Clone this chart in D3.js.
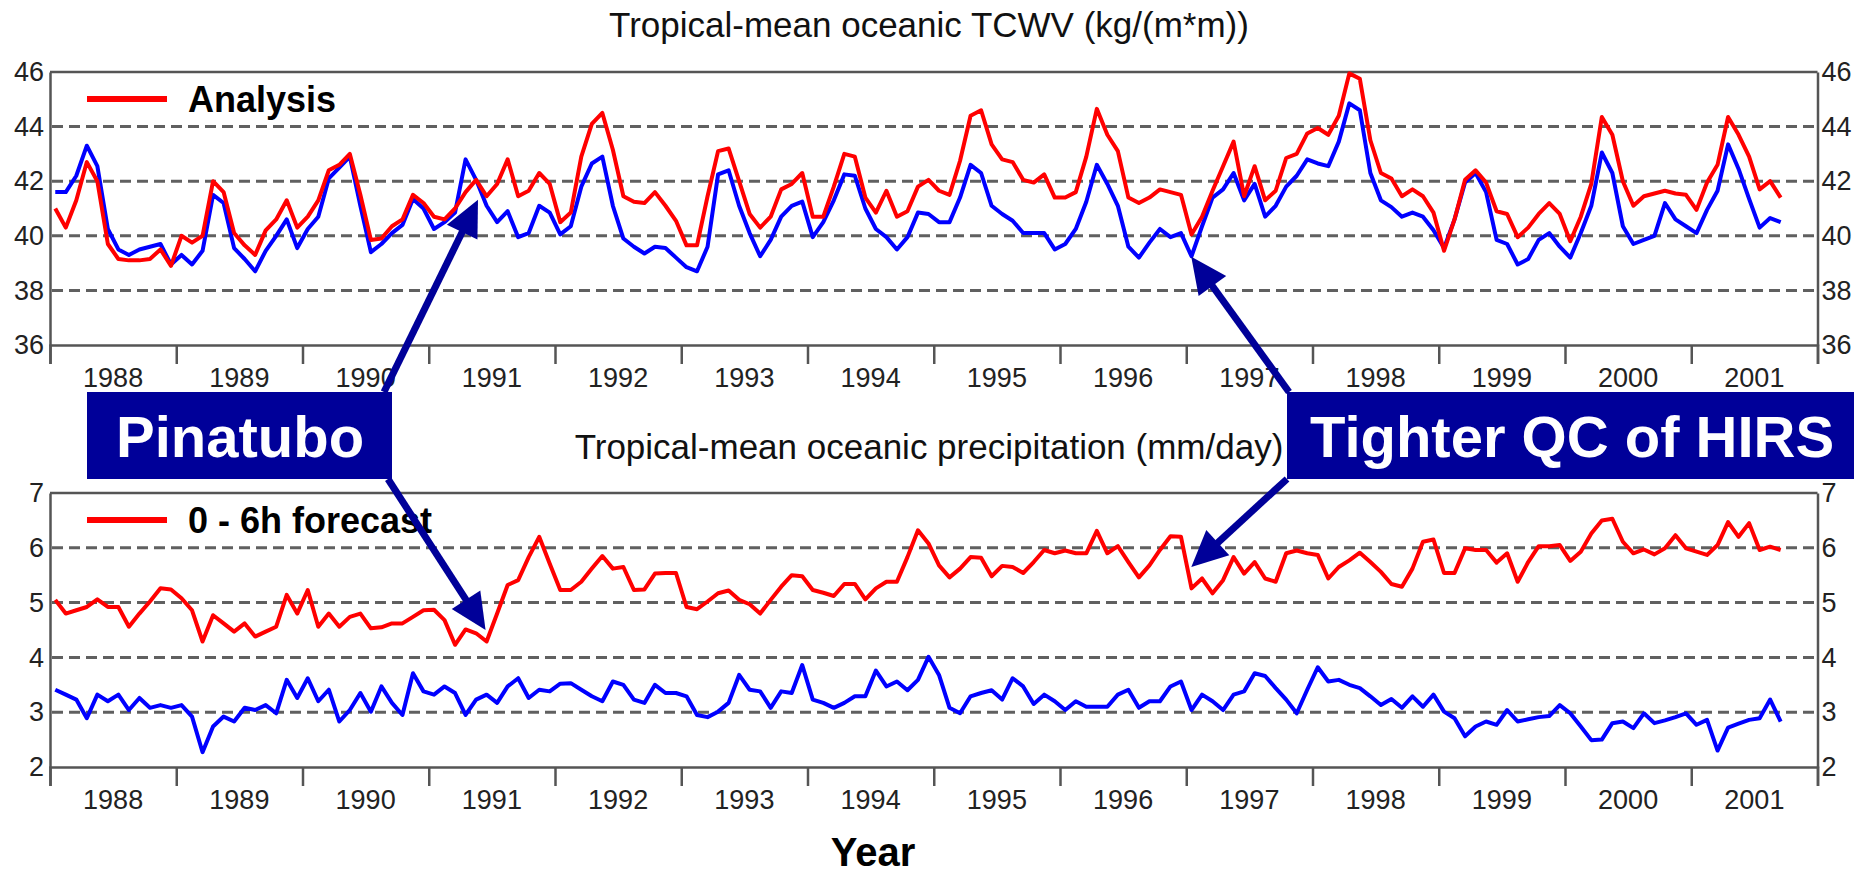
<!DOCTYPE html>
<html>
<head>
<meta charset="utf-8">
<script src="https://cdn.jsdelivr.net/npm/d3@7/dist/d3.min.js"></script>
<style>
  body { margin: 0; background: #fff; }
  svg text { font-family: "Liberation Sans", Arial, Helvetica, sans-serif; }
</style>
</head>
<body>
<svg id="chart" width="1854" height="877"></svg>
<script>
// monthly means, Jan 1988 .. Sep 2001
const tcwvAnalysis = [
  41.0, 40.3, 41.3, 42.7, 42.0, 39.7, 39.15, 39.1, 39.1, 39.15, 39.5, 38.9,
  40.0, 39.75, 40.0, 42.0, 41.6, 40.1, 39.65, 39.3, 40.2, 40.6, 41.3, 40.3,
  40.7, 41.3, 42.4, 42.6, 43.0, 41.5, 39.85, 39.9, 40.35, 40.6, 41.5, 41.2,
  40.7, 40.6, 41.0, 41.6, 42.05, 41.45, 41.9, 42.8, 41.45, 41.65, 42.3, 41.9,
  40.5, 40.85, 42.9, 44.1, 44.5, 43.15, 41.45, 41.25, 41.2, 41.6, 41.1, 40.55,
  39.65, 39.65, 41.45, 43.1, 43.2, 42.0, 40.8, 40.3, 40.7, 41.7, 41.9, 42.3,
  40.7, 40.7, 41.8, 43.0, 42.9, 41.4, 40.85, 41.65, 40.7, 40.9, 41.8, 42.05,
  41.65, 41.5, 42.75, 44.4, 44.6, 43.35, 42.8, 42.7, 42.05, 41.95, 42.25, 41.4,
  41.4, 41.6, 42.9, 44.65, 43.7, 43.1, 41.4, 41.2, 41.4, 41.7, 41.6, 41.5,
  40.05, 40.7, 41.65, 42.55, 43.45, 41.45, 42.55, 41.3, 41.65, 42.85, 43.0, 43.75,
  43.95, 43.7, 44.4, 45.95, 45.75, 43.5, 42.3, 42.1, 41.45, 41.7, 41.45, 40.85,
  39.45, 40.6, 42.05, 42.4, 41.95, 40.9, 40.8, 39.95, 40.3, 40.8, 41.2, 40.8,
  39.8, 40.7, 41.9, 44.35, 43.7, 42.0, 41.1, 41.45, 41.55, 41.65, 41.55, 41.5,
  40.95, 41.95, 42.6, 44.35, 43.7, 42.9, 41.7, 42.0, 41.4
];
const tcwvOther = [
  41.6, 41.6, 42.2, 43.3, 42.55, 40.25, 39.5, 39.3, 39.5, 39.6, 39.7, 38.95,
  39.3, 38.95, 39.45, 41.5, 41.2, 39.55, 39.15, 38.7, 39.45, 40.0, 40.6, 39.55,
  40.25, 40.7, 42.1, 42.5, 42.9, 41.1, 39.4, 39.7, 40.1, 40.4, 41.35, 41.0,
  40.25, 40.5, 40.85, 42.8, 42.05, 41.1, 40.5, 40.9, 39.95, 40.1, 41.1, 40.85,
  40.05, 40.35, 41.8, 42.65, 42.9, 41.1, 39.9, 39.6, 39.35, 39.6, 39.55, 39.2,
  38.85, 38.7, 39.6, 42.25, 42.4, 41.1, 40.1, 39.25, 39.85, 40.7, 41.1, 41.25,
  39.95, 40.5, 41.3, 42.25, 42.2, 41.0, 40.25, 39.95, 39.5, 39.95, 40.85, 40.8,
  40.5, 40.5, 41.4, 42.6, 42.3, 41.1, 40.8, 40.55, 40.1, 40.1, 40.1, 39.5,
  39.7, 40.25, 41.25, 42.6, 41.9, 41.1, 39.6, 39.2, 39.75, 40.25, 39.95, 40.1,
  39.25, 40.35, 41.4, 41.7, 42.3, 41.3, 41.9, 40.7, 41.1, 41.8, 42.2, 42.8,
  42.65, 42.55, 43.45, 44.85, 44.6, 42.3, 41.3, 41.05, 40.7, 40.85, 40.7, 40.2,
  39.55, 40.6, 41.95, 42.3, 41.6, 39.85, 39.7, 38.95, 39.15, 39.85, 40.1, 39.6,
  39.2, 40.1, 41.1, 43.05, 42.3, 40.35, 39.7, 39.85, 40.0, 41.2, 40.6, 40.35,
  40.1, 40.95, 41.65, 43.35, 42.45, 41.35, 40.3, 40.65, 40.5
];
const precipForecast = [
  5.05, 4.8, 4.86, 4.92, 5.06, 4.92, 4.92, 4.56, 4.8, 5.02, 5.26, 5.24,
  5.08, 4.86, 4.29, 4.77, 4.62, 4.47, 4.62, 4.38, 4.47, 4.56, 5.14, 4.8,
  5.23, 4.56, 4.8, 4.56, 4.74, 4.8, 4.53, 4.55, 4.62, 4.62, 4.74, 4.86,
  4.87, 4.68, 4.23, 4.51, 4.44, 4.29, 4.8, 5.32, 5.41, 5.83, 6.2, 5.71,
  5.23, 5.23, 5.38, 5.62, 5.85, 5.62, 5.65, 5.23, 5.24, 5.53, 5.54, 5.54,
  4.92, 4.88, 5.02, 5.17, 5.22, 5.05, 4.97, 4.8, 5.05, 5.29, 5.5, 5.48,
  5.23, 5.18, 5.12, 5.34, 5.34, 5.06, 5.26, 5.38, 5.38, 5.83, 6.32, 6.08,
  5.68, 5.46, 5.62, 5.83, 5.82, 5.48, 5.67, 5.65, 5.54, 5.74, 5.96, 5.9,
  5.95, 5.9, 5.9, 6.31, 5.9, 6.03, 5.74, 5.46, 5.68, 5.96, 6.21, 6.2,
  5.26, 5.44, 5.17, 5.41, 5.83, 5.53, 5.74, 5.44, 5.38, 5.9, 5.95, 5.9,
  5.87, 5.44, 5.65, 5.77, 5.91, 5.74, 5.56, 5.34, 5.29, 5.62, 6.11, 6.15,
  5.54, 5.54, 5.99, 5.96, 5.96, 5.73, 5.9, 5.38, 5.74, 6.03, 6.03, 6.05,
  5.76, 5.93, 6.26, 6.5, 6.53, 6.11, 5.9, 5.97, 5.88, 5.99, 6.23, 5.99,
  5.93, 5.87, 6.05, 6.47, 6.2, 6.45, 5.96, 6.02, 5.96
];
const precipOther = [
  3.41, 3.32, 3.23, 2.89, 3.32, 3.2, 3.32, 3.04, 3.26, 3.08, 3.13, 3.08,
  3.13, 2.92, 2.27, 2.74, 2.92, 2.83, 3.08, 3.04, 3.13, 2.98, 3.59, 3.26,
  3.62, 3.2, 3.41, 2.83, 3.04, 3.35, 3.01, 3.47, 3.17, 2.95, 3.71, 3.38,
  3.32, 3.47, 3.35, 2.95, 3.23, 3.32, 3.17, 3.47, 3.62, 3.26, 3.41, 3.38,
  3.52, 3.53, 3.41, 3.29, 3.2, 3.56, 3.5, 3.23, 3.17, 3.5, 3.35, 3.35,
  3.29, 2.95, 2.91, 3.01, 3.17, 3.68, 3.41, 3.38, 3.08, 3.38, 3.35, 3.86,
  3.23, 3.17, 3.08, 3.17, 3.29, 3.29, 3.76, 3.47, 3.56, 3.4, 3.59, 4.01,
  3.68, 3.08, 2.98, 3.29, 3.35, 3.4, 3.23, 3.62, 3.47, 3.15, 3.32, 3.2,
  3.04, 3.2, 3.1, 3.1, 3.1, 3.32, 3.41, 3.08, 3.2, 3.2, 3.47, 3.56,
  3.04, 3.32, 3.2, 3.04, 3.32, 3.38, 3.71, 3.66, 3.44, 3.23, 2.98, 3.41,
  3.82, 3.56, 3.59, 3.5, 3.44, 3.29, 3.13, 3.24, 3.08, 3.29, 3.1, 3.32,
  3.01, 2.89, 2.56, 2.74, 2.83, 2.77, 3.04, 2.83, 2.87, 2.91, 2.93, 3.13,
  2.98, 2.74, 2.49, 2.5, 2.8, 2.83, 2.71, 2.98, 2.8, 2.85, 2.91, 2.98,
  2.77, 2.86, 2.3, 2.72, 2.79, 2.86, 2.89, 3.23, 2.83
];
const yearLabels = [1988, 1989, 1990, 1991, 1992, 1993, 1994, 1995, 1996, 1997, 1998, 1999, 2000, 2001];
const tcwvTicks = [36, 38, 40, 42, 44, 46];
const precipTicks = [2, 3, 4, 5, 6, 7];

const svg = d3.select("#chart");
const left = 50, right = 1817.5;
const navy = "#000099";

// decimal years, points sit mid-month
const x = d3.scaleLinear().domain([1988, 2002]).range([left, right]);
const monthX = (d, i) => x(1988 + (i + 0.5) / 12);
const yearEdges = d3.range(1988, 2003);

const panels = [
  { title: "Tropical-mean oceanic TCWV (kg/(m*m))", titleY: 37, top: 72, bottom: 345,
    ticks: tcwvTicks, red: tcwvAnalysis, blue: tcwvOther, legend: "Analysis" },
  { title: "Tropical-mean oceanic precipitation (mm/day)", titleY: 459, top: 493, bottom: 767,
    ticks: precipTicks, red: precipForecast, blue: precipOther, legend: "0 - 6h forecast" },
];

panels.forEach((p) => {
  p.y = d3.scaleLinear().domain(d3.extent(p.ticks)).range([p.bottom, p.top]);
  const g = svg.append("g");

  // title
  g.append("text")
    .attr("x", 929).attr("y", p.titleY)
    .attr("text-anchor", "middle")
    .attr("font-size", 35).attr("fill", "#111")
    .text(p.title);

  // dashed grid
  g.selectAll(".grid")
    .data(p.ticks.slice(1, -1))
    .enter().append("line")
    .attr("x1", left + 2).attr("x2", right - 2)
    .attr("y1", (d) => p.y(d)).attr("y2", (d) => p.y(d))
    .attr("stroke", "#606060").attr("stroke-width", 3)
    .attr("stroke-dasharray", "11,6");

  // frame top
  g.append("line")
    .attr("x1", left).attr("x2", right)
    .attr("y1", p.top).attr("y2", p.top)
    .attr("stroke", "#555").attr("stroke-width", 2.5);

  // bottom axis: ticks on year boundaries, labels mid-year
  const xa = g.append("g")
    .attr("transform", `translate(0,${p.bottom})`)
    .call(d3.axisBottom(x).tickValues(yearEdges).tickSize(19).tickFormat(""));
  xa.select(".domain").attr("stroke", "#555").attr("stroke-width", 2.5);
  xa.selectAll(".tick line").attr("stroke", "#555").attr("stroke-width", 2.5);

  g.selectAll(".yr")
    .data(yearLabels)
    .enter().append("text")
    .attr("x", (d) => x(d + 0.5)).attr("y", p.bottom + 42)
    .attr("text-anchor", "middle")
    .attr("font-size", 27).attr("fill", "#222")
    .text((d) => d);

  // left / right value axes
  const fmt = d3.format("d");
  const la = g.append("g")
    .attr("transform", `translate(${left},0)`)
    .call(d3.axisLeft(p.y).tickValues(p.ticks).tickFormat(fmt).tickSize(0).tickPadding(6).tickSizeOuter(0));
  const ra = g.append("g")
    .attr("transform", `translate(${right},0)`)
    .call(d3.axisRight(p.y).tickValues(p.ticks).tickFormat(fmt).tickSize(0).tickPadding(4).tickSizeOuter(0));
  [la, ra].forEach((a) => {
    a.select(".domain").attr("stroke", "#555").attr("stroke-width", 2.5);
    a.selectAll("text").attr("font-size", 27).attr("fill", "#222")
      .style("font-family", '"Liberation Sans", Arial, sans-serif');
  });

  // series
  const line = d3.line().x(monthX).y((d) => p.y(d));
  g.append("path").datum(p.blue)
    .attr("d", line).attr("fill", "none")
    .attr("stroke", "#0000ff").attr("stroke-width", 4).attr("stroke-linejoin", "round");
  g.append("path").datum(p.red)
    .attr("d", line).attr("fill", "none")
    .attr("stroke", "#ff0000").attr("stroke-width", 4).attr("stroke-linejoin", "round");

  // legend
  const ly = p.top + 27;
  g.append("line")
    .attr("x1", 87).attr("x2", 167).attr("y1", ly).attr("y2", ly)
    .attr("stroke", "#ff0000").attr("stroke-width", 6);
  g.append("text")
    .attr("x", 188).attr("y", ly + 13)
    .attr("font-size", 36).attr("font-weight", "bold").attr("fill", "#000")
    .text(p.legend);
});

// x-axis name
svg.append("text")
  .attr("x", 873).attr("y", 866)
  .attr("text-anchor", "middle")
  .attr("font-size", 40).attr("font-weight", "bold")
  .text("Year");

// call-outs: box + arrows pointing at [year, value] in a panel
const callouts = [
  { text: "Pinatubo", box: [87, 392, 305, 87], textX: 116,
    arrows: [{ from: [384, 392], panel: 0, at: [1991.39, 41.32] },
             { from: [388, 479], panel: 1, at: [1991.45, 4.5] }] },
  { text: "Tighter QC of HIRS", box: [1287, 392, 567, 87], textX: 1310,
    arrows: [{ from: [1289, 392], panel: 0, at: [1997.04, 39.23] },
             { from: [1287, 479], panel: 1, at: [1997.04, 5.65] }] },
];

const ann = svg.append("g");
callouts.forEach((c) => {
  c.arrows.forEach((a) => {
    const tip = [x(a.at[0]), panels[a.panel].y(a.at[1])];
    const dx = tip[0] - a.from[0], dy = tip[1] - a.from[1];
    const len = Math.hypot(dx, dy);
    const ux = dx / len, uy = dy / len;
    const headL = 36, headW = 17;
    const bx = tip[0] - ux * headL, by = tip[1] - uy * headL;
    ann.append("line")
      .attr("x1", a.from[0]).attr("y1", a.from[1])
      .attr("x2", bx + ux * 4).attr("y2", by + uy * 4)
      .attr("stroke", navy).attr("stroke-width", 7);
    ann.append("path")
      .attr("d", d3.line()([tip, [bx - uy * headW, by + ux * headW], [bx + uy * headW, by - ux * headW]]) + "Z")
      .attr("fill", navy);
  });
  const [bxp, byp, bw, bh] = c.box;
  ann.append("rect")
    .attr("x", bxp).attr("y", byp).attr("width", bw).attr("height", bh)
    .attr("fill", navy);
  ann.append("text")
    .attr("x", c.textX).attr("y", byp + 65)
    .attr("font-size", 58).attr("font-weight", "bold").attr("fill", "#fff")
    .text(c.text);
});
</script>
</body>
</html>
